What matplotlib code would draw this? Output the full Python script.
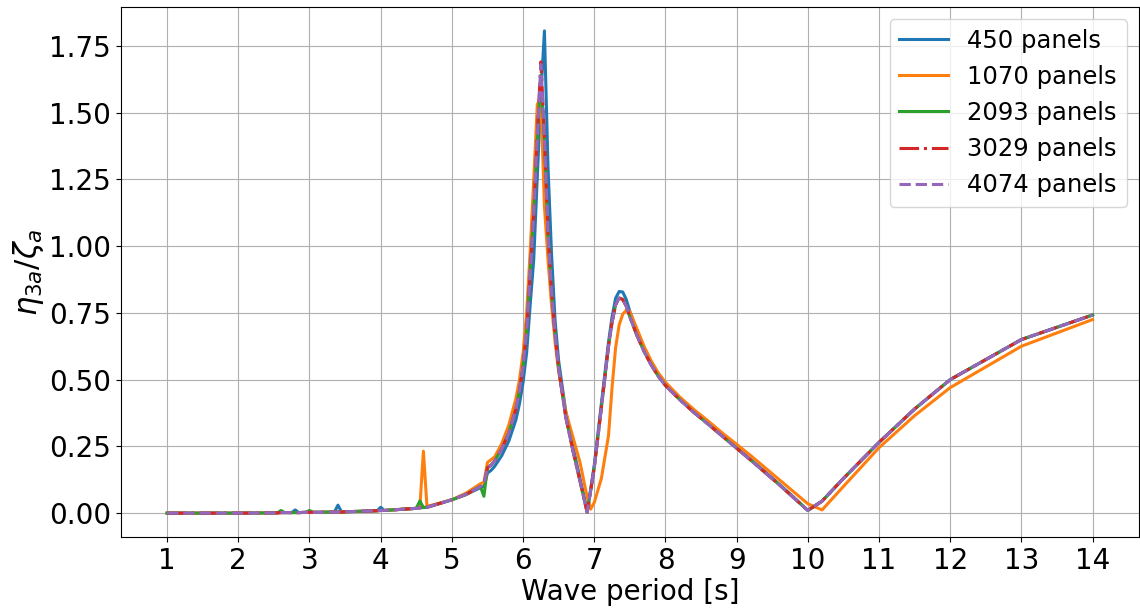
import matplotlib
matplotlib.use("Agg")
import matplotlib.pyplot as plt

periods = [1.0, 1.5, 2.0, 2.5, 2.55, 2.6, 2.65, 2.75, 2.8, 2.85,
           2.95, 3.0, 3.05, 3.35, 3.4, 3.45, 3.5, 3.95, 4.0, 4.05,
           4.5, 4.55, 4.6, 4.65, 5.0, 5.2, 5.4, 5.45, 5.5, 5.55,
           5.6, 5.7, 5.8, 5.9, 5.95, 6.0, 6.05, 6.1, 6.15, 6.2,
           6.25, 6.3, 6.35, 6.4, 6.45, 6.5, 6.6, 6.7, 6.8, 6.9,
           6.95, 7.0, 7.1, 7.2, 7.25, 7.3, 7.35, 7.4, 7.45, 7.5, 7.6,
           7.7, 7.8, 7.9, 8.0, 8.2, 8.4, 8.6, 8.8, 9.0, 9.2,
           9.4, 9.6, 9.8, 10.0, 10.2, 10.5, 11.0, 11.5, 12.0, 13.0,
           14.0]

rao_450 = [0.0, 0.0, 0.0, 0.001, 0.001, 0.002, 0.002, 0.002, 0.012, 0.002,
           0.003, 0.003, 0.003, 0.004, 0.030, 0.004, 0.005, 0.009, 0.022, 0.010,
           0.018, 0.020, 0.021, 0.022, 0.050, 0.070, 0.095, 0.100, 0.150, 0.160,
           0.175, 0.215, 0.270, 0.350, 0.410, 0.490, 0.600, 0.780, 0.950, 1.260,
           1.560, 1.806, 1.300, 0.970, 0.720, 0.570, 0.380, 0.250, 0.130, 0.010,
           0.090, 0.180, 0.410, 0.640, 0.735, 0.805, 0.830, 0.828, 0.800, 0.755, 0.680,
           0.615, 0.565, 0.520, 0.485, 0.430, 0.380, 0.335, 0.290, 0.245, 0.200,
           0.155, 0.108, 0.060, 0.010, 0.045, 0.130, 0.265, 0.390, 0.500, 0.650,
           0.742]

rao_1070 = [0.0, 0.0, 0.0, 0.001, 0.001, 0.002, 0.002, 0.002, 0.002, 0.002,
            0.003, 0.003, 0.003, 0.004, 0.004, 0.004, 0.005, 0.009, 0.010, 0.010,
            0.018, 0.020, 0.232, 0.025, 0.050, 0.075, 0.110, 0.115, 0.190, 0.200,
            0.210, 0.260, 0.330, 0.430, 0.500, 0.600, 0.750, 0.980, 1.250, 1.530,
            1.560, 1.150, 0.950, 0.780, 0.640, 0.530, 0.380, 0.285, 0.190, 0.060,
            0.015, 0.040, 0.130, 0.290, 0.470, 0.620, 0.705, 0.745, 0.760, 0.755, 0.690,
            0.625, 0.570, 0.525, 0.490, 0.435, 0.388, 0.345, 0.300, 0.258, 0.215,
            0.170, 0.125, 0.080, 0.035, 0.012, 0.100, 0.245, 0.365, 0.470, 0.625,
            0.725]

rao_2093 = [0.0, 0.0, 0.0, 0.001, 0.001, 0.010, 0.002, 0.002, 0.002, 0.002,
            0.003, 0.010, 0.003, 0.004, 0.004, 0.004, 0.005, 0.009, 0.010, 0.010,
            0.018, 0.046, 0.021, 0.022, 0.050, 0.070, 0.100, 0.063, 0.170, 0.180,
            0.195, 0.240, 0.300, 0.390, 0.460, 0.550, 0.680, 0.900, 1.120, 1.400,
            1.640, 1.400, 1.050, 0.830, 0.670, 0.540, 0.360, 0.235, 0.120, 0.003,
            0.085, 0.170, 0.395, 0.625, 0.715, 0.780, 0.806, 0.800, 0.775, 0.735, 0.665,
            0.605, 0.555, 0.512, 0.478, 0.425, 0.377, 0.333, 0.288, 0.243, 0.198,
            0.152, 0.106, 0.058, 0.010, 0.045, 0.130, 0.265, 0.390, 0.500, 0.650,
            0.742]

rao_3029 = [0.0, 0.0, 0.0, 0.001, 0.001, 0.002, 0.002, 0.002, 0.002, 0.002,
            0.003, 0.003, 0.003, 0.004, 0.004, 0.004, 0.005, 0.009, 0.010, 0.010,
            0.018, 0.020, 0.021, 0.022, 0.050, 0.070, 0.100, 0.110, 0.170, 0.180,
            0.195, 0.240, 0.300, 0.390, 0.460, 0.550, 0.680, 0.900, 1.120, 1.420,
            1.690, 1.420, 1.050, 0.830, 0.670, 0.540, 0.360, 0.235, 0.120, 0.003,
            0.085, 0.170, 0.395, 0.625, 0.715, 0.780, 0.806, 0.800, 0.775, 0.735, 0.665,
            0.605, 0.555, 0.512, 0.478, 0.425, 0.377, 0.333, 0.288, 0.243, 0.198,
            0.152, 0.106, 0.058, 0.010, 0.045, 0.130, 0.265, 0.390, 0.500, 0.650,
            0.742]

rao_4074 = [0.0, 0.0, 0.0, 0.001, 0.001, 0.002, 0.002, 0.002, 0.002, 0.002,
            0.003, 0.003, 0.003, 0.004, 0.004, 0.004, 0.005, 0.009, 0.010, 0.010,
            0.018, 0.020, 0.021, 0.022, 0.050, 0.070, 0.100, 0.110, 0.170, 0.180,
            0.195, 0.240, 0.300, 0.390, 0.460, 0.550, 0.680, 0.900, 1.120, 1.410,
            1.680, 1.410, 1.050, 0.830, 0.670, 0.540, 0.360, 0.235, 0.120, 0.003,
            0.085, 0.170, 0.395, 0.625, 0.715, 0.780, 0.806, 0.800, 0.775, 0.735, 0.665,
            0.605, 0.555, 0.512, 0.478, 0.425, 0.377, 0.333, 0.288, 0.243, 0.198,
            0.152, 0.106, 0.058, 0.010, 0.045, 0.130, 0.265, 0.390, 0.500, 0.650,
            0.742]

labels = ["450 panels", "1070 panels", "2093 panels", "3029 panels", "4074 panels"]
xticks = list(range(1, 15))

series = [rao_450, rao_1070, rao_2093, rao_3029, rao_4074]
for s in series:
    assert len(s) == len(periods), len(s)

styles = [
    dict(color="#1f77b4", linestyle="-"),
    dict(color="#ff7f0e", linestyle="-"),
    dict(color="#2ca02c", linestyle="-"),
    dict(color="#d62728", linestyle="-."),
    dict(color="#9467bd", linestyle="--"),
]

fig = plt.figure(figsize=(11.4, 6.14), dpi=100)
ax = fig.add_subplot(111)
fig.subplots_adjust(left=0.106, right=0.999, top=0.989, bottom=0.125)

for s, lab, st in zip(series, labels, styles):
    ax.plot(periods, s, label=lab, linewidth=2.2, **st)

ax.set_xticks(xticks)
ax.tick_params(axis="both", labelsize=20)
ax.set_xlabel("Wave period [s]", fontsize=20, labelpad=2)
ax.set_ylabel(r"$\eta_{3a}/\zeta_a$", fontsize=22, labelpad=2)
ax.grid(True)
ax.legend(loc="upper right", fontsize=17.5)

fig.savefig("out.png", dpi=100)
